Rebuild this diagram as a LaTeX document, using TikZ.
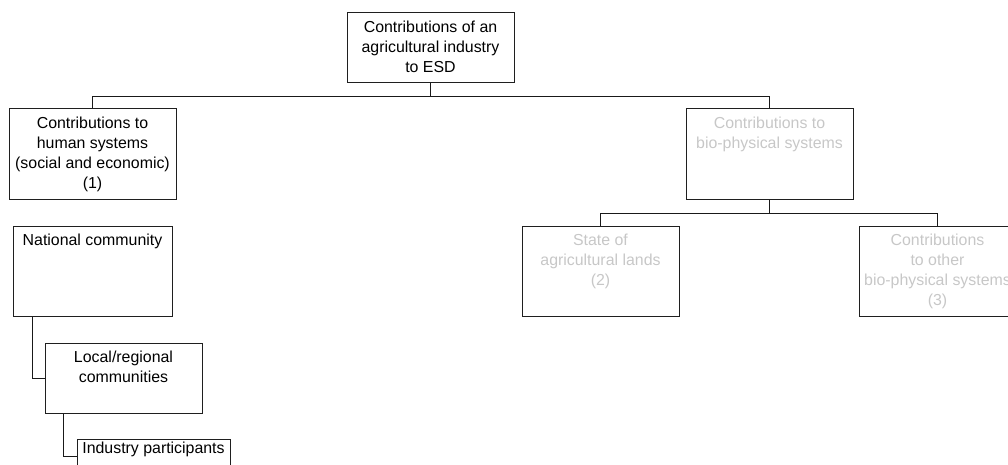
\documentclass[tikz,border=0pt]{standalone}
\usepackage{fontspec}
\setmainfont{Liberation Sans}
\begin{document}
\begin{tikzpicture}[x=1pt,y=-1pt,
  box/.style={draw=black!88, line width=1pt, inner sep=0pt, minimum width=#1},
  box/.default=167pt,
  txt/.style={anchor=north, inner sep=0pt, align=center,
    font=\fontsize{15.9pt}{20pt}\selectfont},
  dim/.style={text=black!22},
  link/.style={draw=black!90, line width=1pt}]
\useasboundingbox (0,0) rectangle (1008,465);
\clip (0,0) rectangle (1008,465);

% root and first level
\node[box, minimum height=70pt] (root) at (430.5,48) {};
\node[txt] (rootT) at ([yshift=-8.5pt]root.north) {Contributions of an\\agricultural industry\\to ESD};

\node[box, minimum height=90pt] (human) at (92.5,154) {};
\node[txt] (humanT) at ([yshift=-8.5pt]human.north) {Contributions to\\human systems\\(social and economic)\\(1)};

\node[box, minimum height=90pt] (bio) at (769.5,154) {};
\node[txt, dim] (bioT) at ([yshift=-8.5pt]bio.north) {Contributions to\\bio-physical systems};

% bio-physical children
\node[box=157pt, minimum height=90pt] (state) at (600.5,271) {};
\node[txt, dim] (stateT) at ([yshift=-8.5pt]state.north) {State of\\agricultural lands\\(2)};

\node[box=157pt, minimum height=90pt] (other) at (937.5,271) {};
\node[txt, dim] (otherT) at ([yshift=-8.5pt]other.north) {Contributions\\to other\\bio-physical systems\\(3)};

% community levels
\node[box=159pt, minimum height=90pt] (nat) at (92.5,271) {};
\node[txt] (natT) at ([yshift=-8.5pt]nat.north) {National community};

\node[box=157pt, minimum height=70pt] (local) at (123.5,378) {};
\node[txt] (localT) at ([yshift=-8.5pt]local.north) {Local/regional\\communities};

\node[box=153pt, minimum height=34pt] (ind) at (153.5,456) {};
\node[txt] (indT) at ([yshift=-3pt]ind.north) {Industry participants};

% connectors
\draw[link] (root.south) -- ++(0,13) coordinate (j1);
\draw[link] (j1) -| (human.north);
\draw[link] (j1) -| (bio.north);

\draw[link] (bio.south) -- ++(0,14) coordinate (j2);
\draw[link] (j2) -| (state.north);
\draw[link] (j2) -| (other.north);

\draw[link] ([xshift=20pt]nat.south west) |- (local.west);
\draw[link] ([xshift=19pt]local.south west) |- (ind.west);
\end{tikzpicture}
\end{document}
